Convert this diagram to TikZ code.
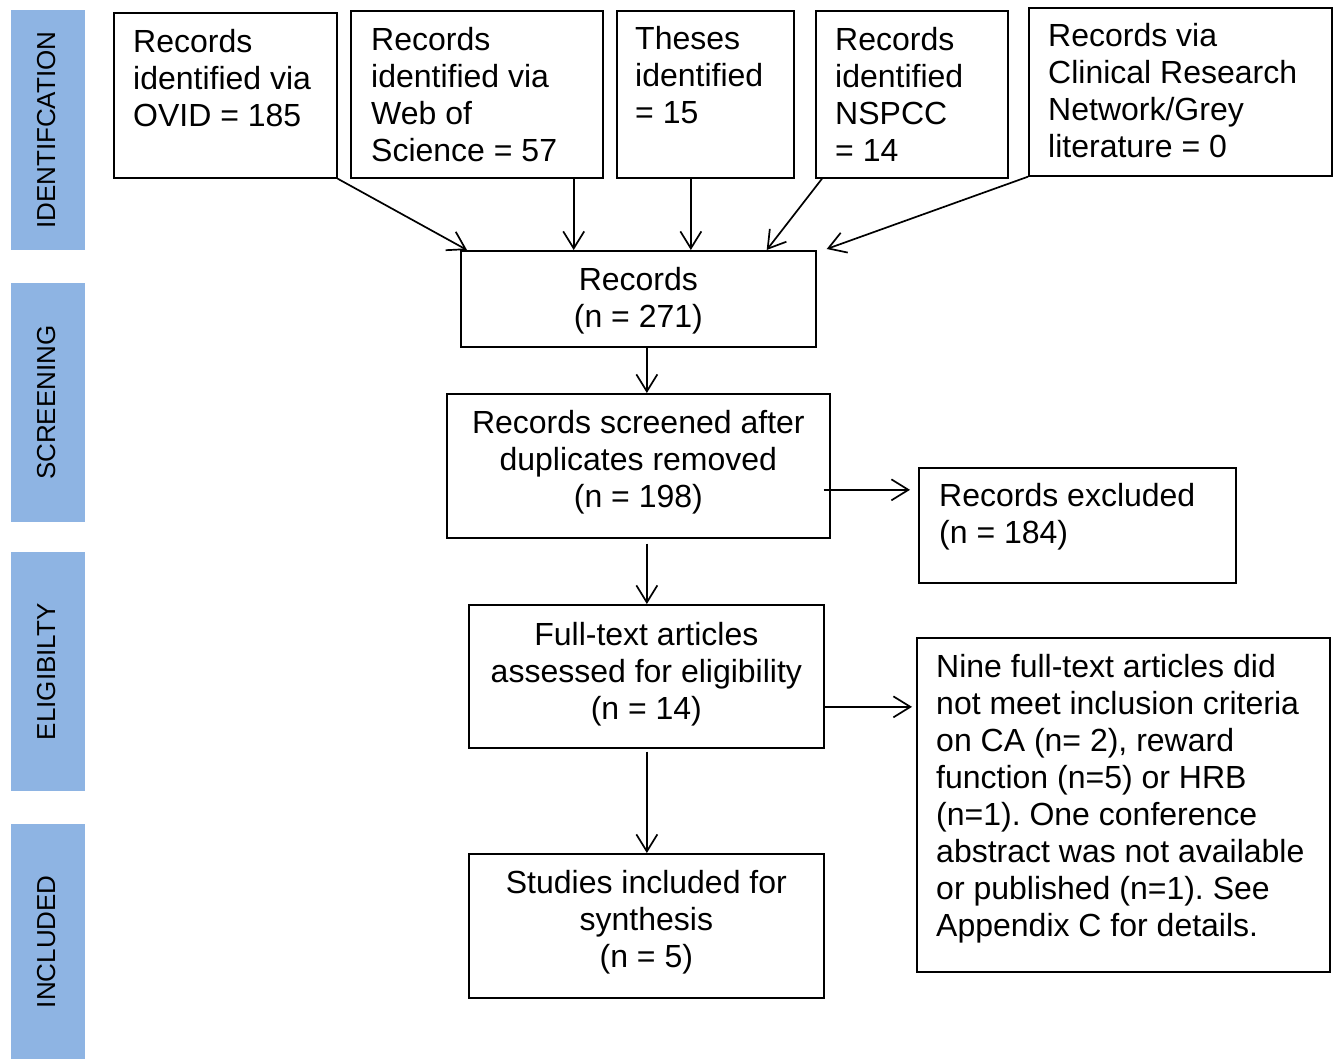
\documentclass[tikz,border=0pt]{standalone}
\usepackage{fontspec}
\setmainfont{Liberation Sans}
\usetikzlibrary{arrows.meta,calc}
\definecolor{barblue}{RGB}{142,180,227}

\begin{document}
\begin{tikzpicture}[x=1pt,y=-1pt,
box/.style={rectangle, draw, line width=1.7pt, inner sep=0, anchor=north west},
bar/.style={rectangle, fill=barblue, minimum width=74pt, inner sep=0, anchor=north west},
side/.style={rotate=90, inner sep=0, font=\fontsize{26}{30}\selectfont},
lab/.style={inner sep=0, align=left, anchor=north west, font=\fontsize{32}{37}\selectfont\frenchspacing},
clab/.style={inner sep=0, align=center, anchor=north, font=\fontsize{32}{37}\selectfont\frenchspacing},
arr/.style={line width=1.7pt, -{Straight Barb[length=17pt,width=21pt]}}]

\useasboundingbox (0,0) rectangle (1333,1059);

% stage bars on the left
\node[bar, minimum height=240pt] at (11,10) (idbar) {};
\node[bar, minimum height=239pt] at (11,283) (scrbar) {};
\node[bar, minimum height=239pt] at (11,552) (eligbar) {};
\node[bar, minimum height=235pt] at (11,824) (inclbar) {};

\node[side] at ([xshift=-2pt]idbar.center) {IDENTIFCATION};
\node[side] at ([xshift=-2pt]scrbar.center) {SCREENING};
\node[side] at ([xshift=-2pt]eligbar.center) {ELIGIBILTY};
\node[side] at ([xshift=-2pt]inclbar.center) {INCLUDED};

% sources
\node[box, minimum width=223pt, minimum height=165pt] at (113,12) (ovid) {};
\node[box, minimum width=252pt, minimum height=167pt] at (350,10) (wos) {};
\node[box, minimum width=177pt, minimum height=167pt] at (616,10) (theses) {};
\node[box, minimum width=192pt, minimum height=167pt] at (815,10) (nspcc) {};
\node[box, minimum width=303pt, minimum height=168pt] at (1028,7) (crn) {};

\node[lab] at ([xshift=20pt,yshift=-17pt]ovid.north west) {Records\\identified via\\OVID = 185};
\node[lab] at ([xshift=21pt,yshift=-17pt]wos.north west) {Records\\identified via\\Web of\\Science = 57};
\node[lab] at ([xshift=19pt,yshift=-16pt]theses.north west) {Theses\\identified\\= 15};
\node[lab] at ([xshift=20pt,yshift=-17pt]nspcc.north west) {Records\\identified\\NSPCC\\= 14};
\node[lab] at ([xshift=20pt,yshift=-16pt]crn.north west) {Records via\\Clinical Research\\Network/Grey\\literature = 0};

% flow
\node[box, minimum width=355pt, minimum height=96pt] at (460,250) (rec) {};
\node[box, minimum width=383pt, minimum height=144pt] at (446,393) (screen) {};
\node[box, minimum width=317pt, minimum height=115pt] at (918,467) (excl) {};
\node[box, minimum width=355pt, minimum height=143pt] at (468,604) (full) {};
\node[box, minimum width=413pt, minimum height=334pt] at (916,637) (nine) {};
\node[box, minimum width=355pt, minimum height=144pt] at (468,853) (incl) {};

\node[clab] at ([yshift=-17pt]rec.north) {Records\\(n = 271)};
\node[clab] at ([yshift=-17pt]screen.north) {Records screened after\\duplicates removed\\(n = 198)};
\node[lab] at ([xshift=21pt,yshift=-16pt]excl.north west) {Records excluded\\(n = 184)};
\node[clab] at ([yshift=-18pt]full.north) {Full-text articles\\assessed for eligibility\\(n = 14)};
\node[lab] at ([xshift=20pt,yshift=-17pt]nine.north west) {Nine full-text articles did\\not meet inclusion criteria\\on CA (n= 2), reward\\function (n=5) or HRB\\(n=1). One conference\\abstract was not available\\or published (n=1). See\\Appendix C for details.};
\node[clab] at ([yshift=-17pt]incl.north) {Studies included for\\synthesis\\(n = 5)};

% arrows
\coordinate (wosout) at ([xshift=-30pt]wos.south east);
\coordinate (thout) at ([xshift=-14.5pt]theses.south);
\draw[arr] (ovid.south east) -- ([xshift=7pt]rec.north west);
\draw[arr] (wosout) -- (wosout |- rec.north);
\draw[arr] (thout) -- (thout |- rec.north);
\draw[arr] ([xshift=7pt]nspcc.south west) -- ([xshift=-50pt]rec.north east);
\draw[arr] (crn.south west) -- ([xshift=10pt,yshift=1pt]rec.north east);

\coordinate (recout) at ([xshift=8.5pt]rec.south);
\draw[arr] (recout) -- (recout |- screen.north);

\coordinate (scrout) at ([xshift=-7pt,yshift=-24pt]screen.east);
\draw[arr] (scrout) -- ($(scrout -| excl.west)+(-8pt,0)$);

\coordinate (scrdown) at ([xshift=8.5pt,yshift=-5pt]screen.south);
\draw[arr] (scrdown) -- (scrdown |- full.north);

\coordinate (fullout) at ([yshift=-30.5pt]full.east);
\draw[arr] (fullout) -- ($(fullout -| nine.west)+(-4pt,0)$);

\coordinate (fulldown) at ([xshift=0.5pt,yshift=-3pt]full.south);
\draw[arr] (fulldown) -- (fulldown |- incl.north);
\end{tikzpicture}
\end{document}
